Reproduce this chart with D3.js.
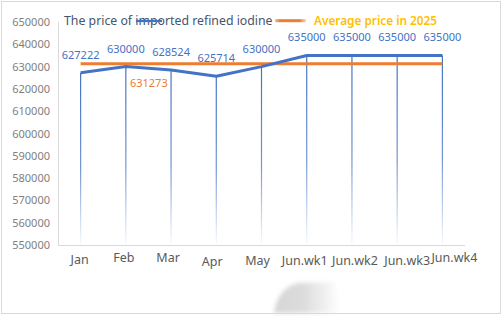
<!DOCTYPE html>
<html>
<head>
<meta charset="utf-8">
<script src="https://cdn.jsdelivr.net/npm/d3@7"></script>
<style>
  html, body { margin: 0; padding: 0; background: #fff; }
  svg { display: block; }
  text { font-family: "Noto Sans", "Open Sans", sans-serif; }
</style>
</head>
<body>
<div id="chart"></div>
<script>
// Monthly (and weekly for June) price of imported refined iodine
const categories = ["Jan", "Feb", "Mar", "Apr", "May", "Jun.wk1", "Jun.wk2", "Jun.wk3", "Jun.wk4"];
const prices = [627222, 630000, 628524, 625714, 630000, 635000, 635000, 635000, 635000];
const averagePrice = 631273;
const yTickValues = [550000, 560000, 570000, 580000, 590000, 600000, 610000, 620000, 630000, 640000, 650000];
const seriesName = "The price of imported refined iodine";
const averageName = "Average price in 2025";

const W = 504, H = 324;
const blue = "#4472C4", orange = "#ED7D31";

const svg = d3.select("#chart").append("svg")
  .attr("width", W).attr("height", H);

const defs = svg.append("defs");
const drop = defs.append("linearGradient")
  .attr("id", "dropFade").attr("x1", 0).attr("y1", 0).attr("x2", 0).attr("y2", 1);
drop.append("stop").attr("offset", "0%").attr("stop-color", blue).attr("stop-opacity", 1);
drop.append("stop").attr("offset", "55%").attr("stop-color", blue).attr("stop-opacity", 0.75);
drop.append("stop").attr("offset", "100%").attr("stop-color", blue).attr("stop-opacity", 0.03);

const legendFade = defs.append("linearGradient")
  .attr("id", "legendFade").attr("x1", 0).attr("y1", 0).attr("x2", 1).attr("y2", 0);
legendFade.append("stop").attr("offset", "0%").attr("stop-color", orange).attr("stop-opacity", 0.5);
legendFade.append("stop").attr("offset", "15%").attr("stop-color", orange).attr("stop-opacity", 1);
legendFade.append("stop").attr("offset", "80%").attr("stop-color", orange).attr("stop-opacity", 1);
legendFade.append("stop").attr("offset", "100%").attr("stop-color", orange).attr("stop-opacity", 0.3);

const smudgeGrad = defs.append("linearGradient")
  .attr("id", "smudgeFade").attr("x1", 0).attr("y1", 0).attr("x2", 1).attr("y2", 0);
smudgeGrad.append("stop").attr("offset", "0%").attr("stop-color", "#d6d6d6");
smudgeGrad.append("stop").attr("offset", "45%").attr("stop-color", "#dcdcdc");
smudgeGrad.append("stop").attr("offset", "100%").attr("stop-color", "#ffffff");
defs.append("filter").attr("id", "soft")
  .attr("x", "-30%").attr("y", "-30%").attr("width", "160%").attr("height", "160%")
  .append("feGaussianBlur").attr("stdDeviation", 2.2);

// chart frame
svg.append("rect")
  .attr("x", 1.5).attr("y", 1.5).attr("width", 499).attr("height", 312)
  .attr("fill", "#fff").attr("stroke", "#d9d9d9").attr("stroke-width", 1);

const plot = { left: 58, right: 465, top: 22, bottom: 245 };

const x = d3.scaleBand().domain(categories).range([plot.left, plot.right]);
const cx = d => x(d) + x.bandwidth() / 2;
const y = d3.scaleLinear().domain([550000, 650000]).range([plot.bottom, plot.top]);

// y axis labels
const yAxis = d3.axisLeft(y).tickValues(yTickValues).tickSize(0).tickPadding(8)
  .tickFormat(d3.format("d"));
const yg = svg.append("g").attr("transform", `translate(${plot.left},0)`).call(yAxis);
yg.select(".domain").remove();
yg.selectAll("text").attr("fill", "#7f7f7f").attr("font-size", 11);

// axis lines
svg.append("line")
  .attr("x1", plot.left + 0.5).attr("x2", plot.left + 0.5)
  .attr("y1", plot.top).attr("y2", plot.bottom)
  .attr("stroke", "#d9d9d9");
svg.append("line")
  .attr("x1", plot.left).attr("x2", plot.right)
  .attr("y1", plot.bottom + 0.5).attr("y2", plot.bottom + 0.5)
  .attr("stroke", "#d9d9d9");

// x axis labels (small per-label nudges keep them where they sat)
const labelNudge = [[-1, 0], [-2, -2], [-3, -2], [-4, 2], [-4, 1], [-2, 1], [3, 1], [10, 1], [12, -2]];
const xAxis = d3.axisBottom(x).tickSize(0).tickPadding(0);
const xg = svg.append("g").attr("transform", `translate(0,${plot.bottom})`).call(xAxis);
xg.select(".domain").remove();
xg.selectAll("text")
  .attr("fill", "#595959").attr("font-size", 12.5)
  .attr("dy", null)
  .attr("y", 18.5)
  .attr("x", (d, i) => labelNudge[i][0])
  .attr("transform", (d, i) => `translate(0,${labelNudge[i][1]})`);

// drop lines from each point down to the axis
svg.append("g").selectAll("rect")
  .data(prices)
  .join("rect")
  .attr("x", (d, i) => cx(categories[i]) - 0.6)
  .attr("y", d => y(d))
  .attr("width", 1.2)
  .attr("height", d => plot.bottom - y(d))
  .attr("fill", "url(#dropFade)");

// average line
svg.append("line")
  .attr("x1", cx(categories[0])).attr("x2", cx(categories[categories.length - 1]))
  .attr("y1", y(averagePrice)).attr("y2", y(averagePrice))
  .attr("stroke", orange).attr("stroke-width", 3);

// price line
const line = d3.line().x((d, i) => cx(categories[i])).y(d => y(d));
svg.append("path")
  .datum(prices)
  .attr("d", line)
  .attr("fill", "none")
  .attr("stroke", blue).attr("stroke-width", 3)
  .attr("stroke-linejoin", "round");

// value labels
svg.append("g").selectAll("text")
  .data(prices)
  .join("text")
  .attr("x", (d, i) => cx(categories[i]))
  .attr("y", d => y(d) - 14)
  .attr("text-anchor", "middle")
  .attr("font-size", 11)
  .attr("fill", blue)
  .text(d => d);

svg.append("text")
  .attr("x", cx("Feb") + 23)
  .attr("y", y(averagePrice) + 23)
  .attr("text-anchor", "middle")
  .attr("font-size", 11)
  .attr("fill", orange)
  .text(averagePrice);

// legend
svg.append("text")
  .attr("x", 64).attr("y", 25)
  .attr("font-size", 12.3)
  .attr("fill", "#44546A")
  .text(seriesName);
svg.append("line")
  .attr("x1", 136).attr("x2", 162).attr("y1", 21).attr("y2", 21)
  .attr("stroke", blue).attr("stroke-width", 2.2);
svg.append("rect")
  .attr("x", 275).attr("y", 19.2).attr("width", 31).attr("height", 3)
  .attr("fill", "url(#legendFade)");
svg.append("text")
  .attr("x", 314).attr("y", 25)
  .attr("font-size", 11.8)
  .attr("font-weight", 600)
  .attr("fill", "#FFC000")
  .text(averageName);

// faint grey smudge near the bottom edge
svg.append("path")
  .attr("d", "M274,313 C276,298 284,286 298,283 L335,282 L340,313 Z")
  .attr("fill", "url(#smudgeFade)")
  .attr("filter", "url(#soft)");
svg.append("line")
  .attr("x1", 1.5).attr("x2", 500.5).attr("y1", 313.5).attr("y2", 313.5)
  .attr("stroke", "#d9d9d9");
</script>
</body>
</html>
